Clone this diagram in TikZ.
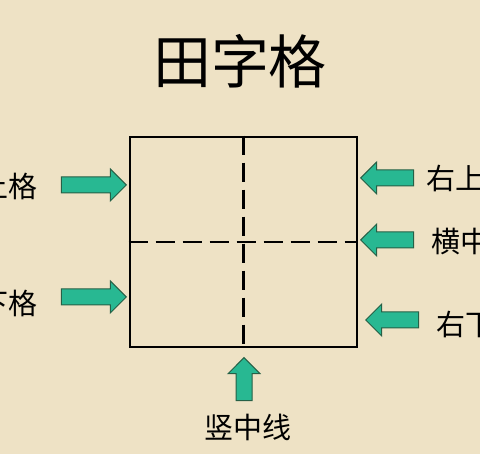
\documentclass[tikz,border=0pt]{standalone}
\usepackage{fontspec}
\newfontfamily\cjk{Noto Sans CJK SC}
\usetikzlibrary{shapes.arrows}
\definecolor{paper}{RGB}{238,226,197}
\definecolor{arrowfill}{RGB}{40,184,146}
\definecolor{arrowline}{RGB}{38,96,70}
\tikzset{
  x=1pt, y=-1pt,
}
\tikzstyle{blockarrow}=[single arrow, draw=arrowline, fill=arrowfill, line width=1pt,
  inner sep=7.5pt, single arrow head extend=8pt, single arrow head indent=0pt]
\tikzstyle{midline}=[line width=2.6pt, dash pattern=on 19pt off 8pt]
\tikzstyle{label}=[inner sep=0pt, font=\cjk\fontsize{29}{30}\selectfont]
\tikzstyle{title}=[inner sep=0pt, font=\cjk\fontsize{58}{60}\selectfont]

\begin{document}
\begin{tikzpicture}
    \useasboundingbox (0,0) rectangle (480,454);
    \clip (0,0) rectangle (480,454);
    \fill[paper] (0,0) rectangle (480,454);

    \node[title] (head) at (240,61) {田字格};

    % the grid
    \node[draw, line width=2.6pt, minimum width=227pt, minimum height=210pt,
      inner sep=0pt] (grid) at (243.5,242) {};
    \draw[midline] (grid.north) -- (grid.south);
    \draw[midline] (grid.west) -- (grid.east);

    % arrows and their names
    \node[blockarrow, minimum height=65pt, anchor=tip] (lt) at (127,185) {};
    \node[blockarrow, minimum height=65pt, anchor=tip] (lb) at (127,297) {};
    \node[blockarrow, minimum height=53pt, anchor=tip, shape border rotate=180] (rt) at (360,178) {};
    \node[blockarrow, minimum height=53pt, anchor=tip, shape border rotate=180] (rm) at (360,240) {};
    \node[blockarrow, minimum height=53pt, anchor=tip, shape border rotate=180] (rb) at (365,320) {};
    \node[blockarrow, minimum height=43pt, anchor=tip, shape border rotate=90] (bm) at (244,357) {};

    \node[label, anchor=east] (lttext) at (38,186) {左上格};
    \node[label, anchor=east] (lbtext) at (38,303) {左下格};
    \node[label, anchor=west] (rttext) at (426,178) {右上格};
    \node[label, anchor=west] (rmtext) at (431,241) {横中线};
    \node[label, anchor=west] (rbtext) at (436,324) {右下格};
    \node[label] (bmtext) at (248,427) {竖中线};
\end{tikzpicture}
\end{document}
